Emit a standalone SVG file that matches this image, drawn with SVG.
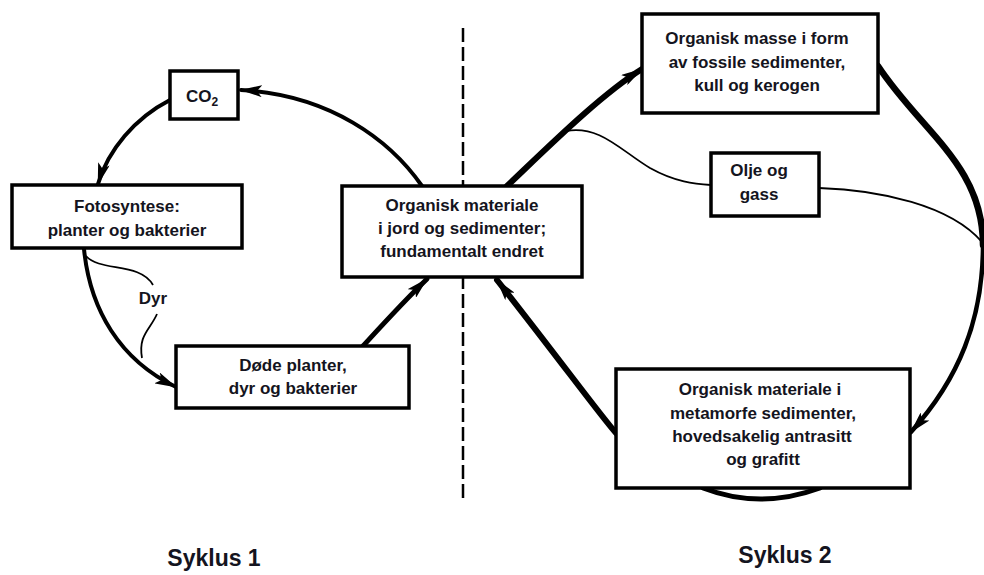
<svg xmlns="http://www.w3.org/2000/svg" width="984" height="575" viewBox="0 0 984 575">
<style>
.box{fill:#fff;stroke:#000;stroke-width:3.5}
.t{font-family:"Liberation Sans",Arial,sans-serif;font-weight:bold;font-size:17px;fill:#141420;text-anchor:middle}
.big{font-size:23px}
.c{fill:none;stroke:#000;stroke-linecap:round}
.thin{fill:none;stroke:#000;stroke-width:1.8}
</style>
<defs>
<marker id="ah" viewBox="0 0 22 12" refX="21" refY="6" markerWidth="22" markerHeight="12" markerUnits="userSpaceOnUse" orient="auto">
<path d="M0,0 L22,6 L0,12 L5,6 z" fill="#000"/>
</marker>
</defs>
<rect width="984" height="575" fill="#fff"/>
<line x1="463" y1="28" x2="463" y2="498" stroke="#000" stroke-width="2.5" stroke-dasharray="14 5"/>
<g id="connectors">
<path class="c" stroke-width="4" d="M422,186 C390,140 330,95 241,90" marker-end="url(#ah)"/>
<path class="c" stroke-width="4" d="M170,100 C135,118 108,150 98,184" marker-end="url(#ah)"/>
<path class="c" stroke-width="4" d="M84,249 C90,310 120,360 176,387" marker-end="url(#ah)"/>
<path class="thin" d="M86,256 C100,272 140,262 153,285"/>
<path class="thin" d="M157,314 C150,330 138,335 142,358"/>
<path class="c" stroke-width="5" d="M363,346 C385,322 405,300 427,279" marker-end="url(#ah)"/>
<path class="c" stroke-width="6" d="M507,186 C545,150 600,95 642,69" marker-end="url(#ah)"/>
<path class="thin" d="M566,131 C600,125 620,150 650,168 C675,182 695,184 711,185"/>
<path class="thin" d="M819,188 C880,190 950,205 982,242"/>
<path class="c" stroke-width="6.5" d="M878,66 C921.5,132 983,165 983,245"/>
<path class="c" stroke-width="4.5" d="M983,245 C983,320 958.5,379.5 911,432" marker-end="url(#ah)"/>
<path class="c" stroke-width="5" d="M703,488 Q760,510 820,488"/>
<path class="c" stroke-width="6" d="M616,433 C600,415 560,360 497,280" marker-end="url(#ah)"/>
</g>
<g id="co2">
<rect class="box" x="170" y="71" width="68" height="48"/>
<text class="t" x="202" y="102">CO<tspan font-size="12" dy="4">2</tspan></text>
</g>
<g id="fotosyntese">
<rect class="box" x="12" y="185" width="230" height="63"/>
<text class="t" x="127" y="212">Fotosyntese:</text>
<text class="t" x="127" y="236">planter og bakterier</text>
</g>
<g id="dyr">
<text class="t" x="153" y="304">Dyr</text>
</g>
<g id="dode">
<rect class="box" x="176" y="346" width="233" height="62"/>
<text class="t" x="293" y="371">Døde planter,</text>
<text class="t" x="293" y="394">dyr og bakterier</text>
</g>
<g id="organisk-jord">
<rect class="box" x="342" y="186" width="240" height="91"/>
<text class="t" x="462" y="211">Organisk materiale</text>
<text class="t" x="462" y="234">i jord og sedimenter;</text>
<text class="t" x="462" y="257">fundamentalt endret</text>
</g>
<g id="fossile">
<rect class="box" x="642" y="14" width="236" height="99"/>
<text class="t" x="757" y="44">Organisk masse i form</text>
<text class="t" x="757" y="68">av fossile sedimenter,</text>
<text class="t" x="757" y="91">kull og kerogen</text>
</g>
<g id="olje">
<rect class="box" x="711" y="153" width="108" height="63"/>
<text class="t" x="759" y="176">Olje og</text>
<text class="t" x="759" y="200">gass</text>
</g>
<g id="metamorfe">
<rect class="box" x="616" y="369" width="294" height="119"/>
<text class="t" x="760" y="395">Organisk materiale i</text>
<text class="t" x="763" y="419">metamorfe sedimenter,</text>
<text class="t" x="762" y="442">hovedsakelig antrasitt</text>
<text class="t" x="763" y="465">og grafitt</text>
</g>
<g id="labels">
<text class="t big" x="214" y="566">Syklus 1</text>
<text class="t big" x="785" y="563">Syklus 2</text>
</g>
</svg>
